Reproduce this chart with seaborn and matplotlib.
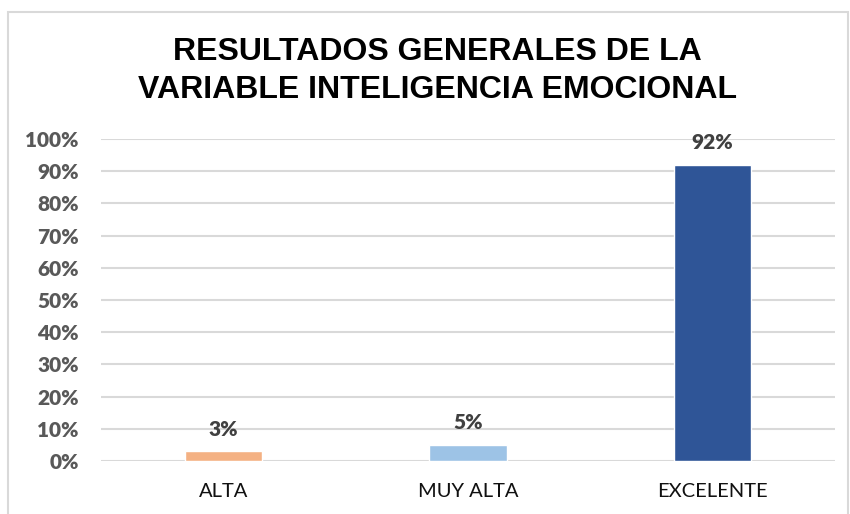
import matplotlib
matplotlib.use("Agg")
import matplotlib.pyplot as plt
import seaborn as sns
import pandas as pd
from matplotlib.patches import Rectangle

# data
categories = ['ALTA', 'MUY ALTA', 'EXCELENTE']
values = [0.03, 0.05, 0.92]
bar_colors = ['#F4B183', '#9DC3E6', '#2F5597']
y_ticks = [0, 0.1, 0.2, 0.3, 0.4, 0.5, 0.6, 0.7, 0.8, 0.9, 1.0]
title = 'RESULTADOS GENERALES DE LA\nVARIABLE INTELIGENCIA EMOCIONAL'

sns.set_style("white")
plt.rcParams['font.family'] = ['Lato', 'DejaVu Sans']

df = pd.DataFrame({'categoria': categories, 'valor': values})

fig = plt.figure(figsize=(8.5, 5.14), dpi=100)
ax = fig.add_axes([101 / 850, 1 - 461 / 514, 734 / 850, 322 / 514])

sns.barplot(data=df, x='categoria', y='valor', hue='categoria',
            palette=bar_colors, saturation=1, width=0.315, legend=False,
            ax=ax, zorder=3)

ax.set_ylim(0, 1.0)
ax.set_xlim(-0.5, 2.5)
ax.set_yticks(y_ticks)
ax.set_yticklabels([f'{int(round(t * 100))}%' for t in y_ticks],
                   fontsize=15, fontweight='heavy', color='#595959')
ax.tick_params(axis='y', length=0, pad=16)
ax.tick_params(axis='x', length=0, pad=16, labelsize=14.5, labelcolor='#111111')
ax.set_xlabel('')
ax.set_ylabel('')
ax.grid(axis='y', color='#D9D9D9', linewidth=1.5, zorder=0)
for s in ax.spines.values():
    s.set_visible(False)

for cont in ax.containers:
    ax.bar_label(cont, labels=[f'{int(round(v * 100))}%' for v in cont.datavalues],
                 padding=9, fontsize=15, fontweight='heavy', color='#404040')

fig.text(437 / 850, 1 - 71 / 514, title, ha='center', va='center',
         fontsize=23, fontweight='bold', family=['Liberation Sans', 'DejaVu Sans'],
         linespacing=1.33, color='black')

# light frame around the chart
fig.patches.append(Rectangle((8 / 850, -0.05), 840 / 850, 1.05 - 12 / 514,
                             transform=fig.transFigure, fill=False,
                             edgecolor='#D9D9D9', linewidth=1.5))

fig.savefig('out.png', dpi=100)
plt.close(fig)
